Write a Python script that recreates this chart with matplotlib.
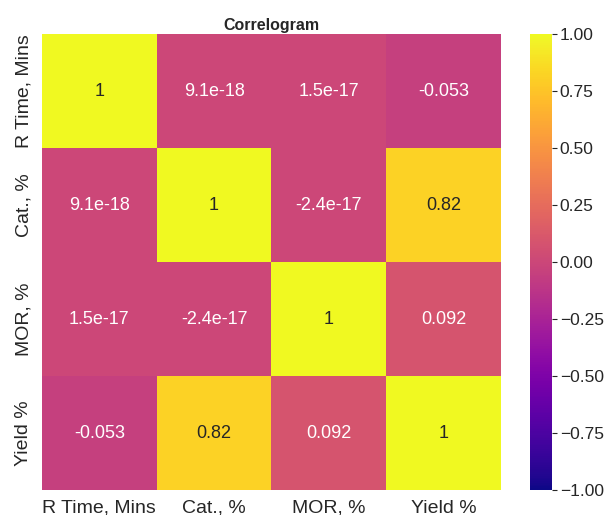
import numpy as np
import matplotlib.pyplot as plt
import seaborn as sns

sns.set_style('white')
plt.rcParams['font.family'] = ['Liberation Sans', 'DejaVu Sans']

labels = ['R Time, Mins', 'Cat., %', 'MOR, %', 'Yield %']
corr = np.array([
    [1.0, 9.1e-18, 1.5e-17, -0.053],
    [9.1e-18, 1.0, -2.4e-17, 0.82],
    [1.5e-17, -2.4e-17, 1.0, 0.092],
    [-0.053, 0.82, 0.092, 1.0],
])

fig = plt.figure(figsize=(6.06, 5.15), dpi=100)
ax = fig.add_axes([0.0693, 0.0485, 0.7574, 0.8854])
cax = fig.add_axes([0.8746, 0.0485, 0.0363, 0.8854])

sns.heatmap(corr, xticklabels=labels, yticklabels=labels, cmap='plasma',
            vmin=-1, vmax=1, annot=True, annot_kws={'size': 13},
            ax=ax, cbar_ax=cax)

ax.set_title('Correlogram', fontsize=11.5, fontweight='bold', pad=3)
ax.tick_params(axis='both', labelsize=14, length=0, pad=7)
cax.tick_params(labelsize=12.5, length=3.5, width=0.8, pad=2, left=False, right=True)

fig.savefig('out.png', dpi=100)
